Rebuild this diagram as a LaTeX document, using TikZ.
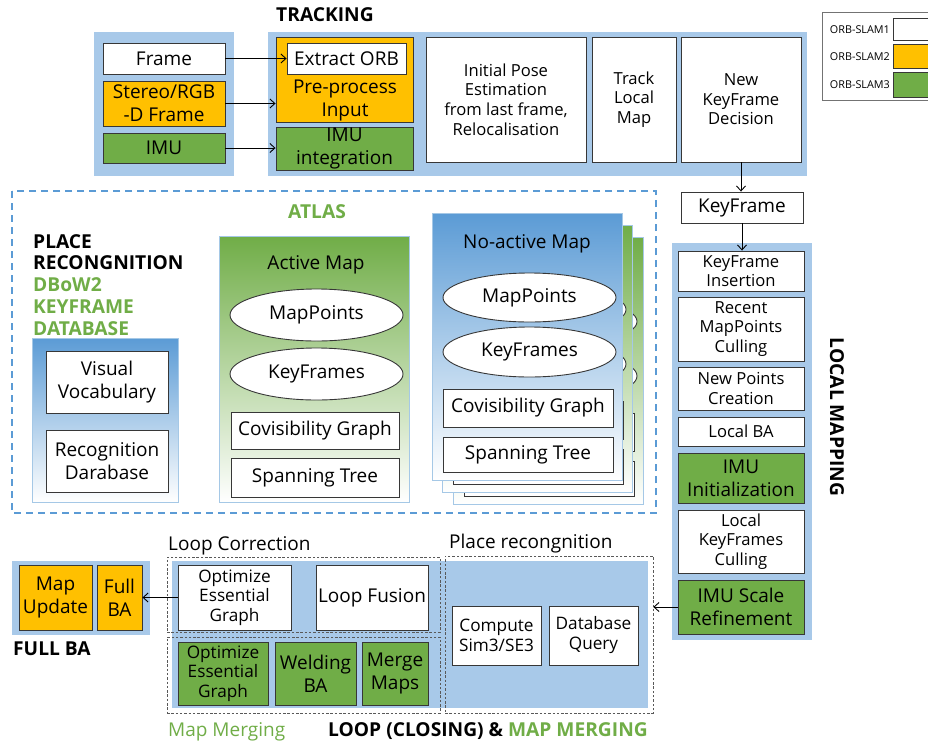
\documentclass[tikz,border=0pt]{standalone}
\usepackage{fontspec}
\setmainfont{Open Sans}
\usetikzlibrary{shapes.geometric,arrows.meta}

\definecolor{panelblue}{RGB}{168,201,233}
\definecolor{slamyellow}{RGB}{255,192,0}
\definecolor{slamgreen}{RGB}{112,173,71}
\definecolor{headgreen}{RGB}{112,173,71}
\definecolor{gradblue}{RGB}{91,155,213}
\definecolor{edgegray}{RGB}{55,55,55}
\definecolor{sheetedge}{RGB}{165,200,230}
\definecolor{dashblue}{RGB}{91,155,213}

\newcommand\fsBig{\fontsize{19}{23}\selectfont}
\newcommand\fsMid{\fontsize{16.6}{19.6}\selectfont}
\newcommand\fsHead{\fontsize{19.2}{21.8}\selectfont\bfseries}
\newcommand\fsTiny{\fontsize{10.8}{12}\selectfont}

\tikzset{
  sz/.style 2 args={minimum width=#1pt, minimum height=#2pt},
  box/.style={draw=edgegray, line width=0.9pt, fill=white, align=center,
              inner sep=0pt, font=\fsMid},
  ybox/.style={box, fill=slamyellow},
  gbox/.style={box, fill=slamgreen},
  oval/.style={ellipse, draw=edgegray, line width=0.9pt, fill=white,
               inner sep=0pt, font=\fsBig},
  panel/.style={fill=panelblue},
  sheet/.style={draw=sheetedge, line width=0.8pt, bottom color=white,
                inner sep=0pt},
  groupline/.style={draw=black!65, line width=0.7pt, dash pattern=on 2.5pt off 1.8pt},
  flow/.style={-{Straight Barb[length=5pt,width=9pt]}, line width=0.9pt, black},
  lbl/.style={inner sep=0pt, font=\fsBig},
  head/.style={inner sep=0pt, font=\fsHead}
}

\begin{document}
\begin{tikzpicture}[x=1pt,y=-1pt]
\useasboundingbox (0,0) rectangle (928,742);

% ---------------- Tracking ----------------
\node[head] (tracktitle) at (325,15) {TRACKING};
\fill[panel] (94,32) rectangle (234,176);
\fill[panel] (268,32) rectangle (807,176);

\node[box, sz={122}{31}, font=\fsBig] (frame) at (164,58.5) {Frame};
\node[ybox, sz={122}{45}, font=\fsBig] (stereo) at (164,103.5) {Stereo/RGB\\-D Frame};
\node[gbox, sz={122}{30}, font=\fsBig] (imu) at (164,148) {IMU};

\node[ybox, sz={137}{85}] (preproc) at (344.5,79.5) {};
\node[box, sz={119}{31}, font=\fsBig] (extract) at (346.5,58.5) {Extract ORB};
\node[lbl, align=center] (preproctext) at (345,100) {Pre-process\\Input};
\node[gbox, sz={137}{43}, font=\fsBig] (imuint) at (344.5,148.5) {IMU\\integration};

\node[box, sz={160}{125}] (pose) at (506,99.5) {Initial Pose\\Estimation\\from last frame,\\Relocalisation};
\node[box, sz={84}{125}] (tlm) at (634,99.5) {Track\\Local\\Map};
\node[box, sz={120}{125}] (nkd) at (741,99.5) {New\\KeyFrame\\Decision};

\draw[flow] (frame.east) -- (extract.west);
\draw[flow] (stereo.east) -- (stereo.east -| preproc.west);
\draw[flow] (imu.east) -- (imu.east -| imuint.west);

% ---------------- Legend ----------------
\draw[draw=black!55, line width=0.7pt] (822,12) rectangle (940,100);
\node[box, sz={50}{22}] (leg1) at (918,29) {};
\node[ybox, sz={50}{24}] (leg2) at (918,56) {};
\node[gbox, sz={50}{25}] (leg3) at (918,84.5) {};
\node[inner sep=0pt, font=\fsTiny, anchor=east] (legt1) at (890,30) {ORB-SLAM1};
\node[inner sep=0pt, font=\fsTiny, anchor=east] (legt2) at (890,57) {ORB-SLAM2};
\node[inner sep=0pt, font=\fsTiny, anchor=east] (legt3) at (890,85) {ORB-SLAM3};

% ---------------- Local mapping ----------------
\node[box, sz={122}{31}, font=\fsBig] (kf) at (742,207.5) {KeyFrame};
\fill[panel] (672,243) rectangle (812,640);
\node[box, sz={126}{40}] (kfi) at (741,271) {KeyFrame\\Insertion};
\node[box, sz={126}{64}] (rmc) at (741,329) {Recent\\MapPoints\\Culling};
\node[box, sz={126}{43}] (npc) at (741,388.5) {New Points\\Creation};
\node[box, sz={126}{29}] (lba) at (741,431.5) {Local BA};
\node[gbox, sz={126}{50}, font=\fsBig] (imuinit) at (741,478) {IMU\\Initialization};
\node[box, sz={126}{63}] (lkc) at (741,541.5) {Local\\KeyFrames\\Culling};
\node[gbox, sz={126}{54}, font=\fsBig] (imusr) at (741,607) {IMU Scale\\Refinement};
\node[head, rotate=-90] (lmtitle) at (837,417) {LOCAL MAPPING};

\draw[flow] (nkd.south) -- (nkd.south |- kf.north);
\draw[flow] (kf.south) -- (kf.south |- kfi.north);

% ---------------- Atlas ----------------
\draw[dashblue, line width=1.6pt, dash pattern=on 7pt off 5pt] (12,191) rectangle (656,513);
\node[head, text=headgreen] (atlastitle) at (317,212) {ATLAS};

\node[head, align=left, anchor=north west] (prtitle) at (33,234)
  {PLACE\\RECONGNITION\\\textcolor{headgreen}{DBoW2}\\\textcolor{headgreen}{KEYFRAME}\\\textcolor{headgreen}{DATABASE}};

\node[sheet, top color=gradblue, sz={146}{164}] (dbpanel) at (105,420) {};
\node[box, sz={122}{62}, font=\fsBig] (vv) at (107,382) {Visual\\Vocabulary};
\node[box, sz={122}{62}, font=\fsBig] (rd) at (107,461) {Recognition\\Darabase};

% active map
\node[sheet, top color=slamgreen, sz={190}{266}] (active) at (314,369) {};
\node[lbl] (activetitle) at (316,265) {Active Map};
\node[oval, sz={173}{52}] (mp1) at (316.5,315) {MapPoints};
\node[oval, sz={173}{52}] (kf1) at (316.5,374) {KeyFrames};
\node[box, sz={168}{37}, font=\fsBig] (cg1) at (315,430.5) {Covisibility Graph};
\node[box, sz={168}{39}, font=\fsBig] (st1) at (315,477.5) {Spanning Tree};

% stacked inactive maps, back sheets first
\foreach \dx/\dy/\pg in {21/24/c, 10/12/b} {
  \begin{scope}[shift={(\dx,\dy)}]
    \node[sheet, top color=slamgreen, sz={190}{267}] (sheet\pg) at (527,346.5) {};
    \node[oval, sz={173}{49}] (mp\pg) at (529.5,297.5) {};
    \node[oval, sz={173}{50}] (kf\pg) at (529.5,352) {};
    \node[box, sz={170}{38}] (cg\pg) at (528,408) {};
    \node[box, sz={170}{35}] (st\pg) at (528,454.5) {};
  \end{scope}
}
\node[sheet, top color=gradblue, sz={190}{267}] (sheeta) at (527,346.5) {};
\node[lbl] (inactivetitle) at (527,244) {No-active Map};
\node[oval, sz={173}{49}] (mpa) at (529.5,297.5) {MapPoints};
\node[oval, sz={173}{50}] (kfa) at (529.5,352) {KeyFrames};
\node[box, sz={170}{38}, font=\fsBig] (cga) at (528,408) {Covisibility Graph};
\node[box, sz={170}{35}, font=\fsBig] (sta) at (528,454.5) {Spanning Tree};

% ---------------- Full BA ----------------
\fill[panel] (12,561) rectangle (150,635);
\node[ybox, sz={73}{65}, font=\fsBig] (mapupdate) at (55.5,597.5) {Map\\Update};
\node[ybox, sz={45}{65}, font=\fsBig] (fullba) at (119.5,597.5) {Full\\BA};
\node[head, anchor=west] (fbatitle) at (13,649) {FULL BA};

% ---------------- Loop closing & map merging ----------------
\fill[panel] (172,561) rectangle (648,708);
\node[groupline, sz={273}{75}] (lcgroup) at (303.5,594.5) {};
\node[groupline, sz={273}{76}] (mmgroup) at (303.5,675) {};
\node[groupline, sz={208}{157}] (prgroup) at (549,634.5) {};

\node[box, sz={113}{65}, font=\fontsize{17.2}{19.6}\selectfont] (oeg1) at (234.5,597.5) {Optimize\\Essential\\Graph};
\node[box, sz={112}{65}, font=\fsBig] (lf) at (372,597.5) {Loop Fusion};
\node[gbox, sz={90}{63}, font=\fontsize{17.2}{19.6}\selectfont] (oeg2) at (223,673.5) {Optimize\\Essential\\Graph};
\node[gbox, sz={81}{63}, font=\fsBig] (wba) at (315.5,673.5) {Welding\\BA};
\node[gbox, sz={66}{63}, font=\fsBig] (mmaps) at (395,673.5) {Merge\\Maps};
\node[box, sz={89}{59}, font=\fontsize{17.2}{20}\selectfont] (cs) at (496.5,635.5) {Compute\\Sim3/SE3};
\node[box, sz={89}{59}, font=\fontsize{17.2}{20}\selectfont] (dq) at (593.5,635.5) {Database\\Query};

\node[lbl, anchor=west] (lctitle) at (168,545.5) {Loop Correction};
\node[lbl, anchor=west] (prtitle2) at (449,543.5) {Place recongnition};
\node[lbl, anchor=west, text=headgreen] (mmtitle) at (168,731.5) {Map Merging};
\node[head, anchor=west] (lcmmtitle) at (328,731.5) {LOOP (CLOSING) \& \textcolor{headgreen}{MAP MERGING}};

\draw[flow] (imusr.west) -- (imusr.west -| prgroup.east);
\draw[flow] (oeg1.west) -- (fullba.east);

\end{tikzpicture}
\end{document}
